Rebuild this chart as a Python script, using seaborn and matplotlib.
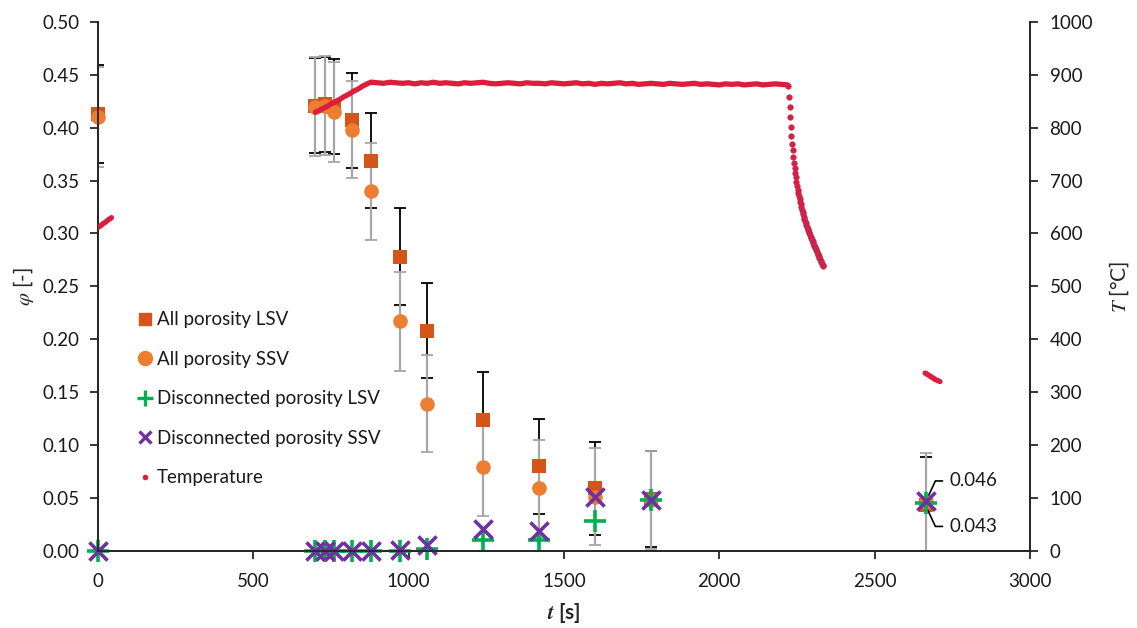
import numpy as np
import pandas as pd
import seaborn as sns
import matplotlib.pyplot as plt
from matplotlib.lines import Line2D

# Porosity samples
t_samples = [0, 700, 730, 760, 817, 879, 972, 1059, 1239, 1419, 1600, 1780, 2665]
phi_all_lsv = [0.413, 0.421, 0.422, 0.420, 0.407, 0.369, 0.278, 0.208, 0.124, 0.080, 0.059, 0.049, 0.043]
err_all_lsv = [0.046, 0.045, 0.045, 0.045, 0.045, 0.045, 0.046, 0.045, 0.045, 0.045, 0.044, 0.045, 0.046]
phi_all_ssv = [0.410, 0.420, 0.421, 0.415, 0.398, 0.340, 0.217, 0.139, 0.079, 0.059, 0.051, 0.048, 0.046]
err_all_ssv = [0.047, 0.047, 0.047, 0.047, 0.046, 0.046, 0.047, 0.046, 0.046, 0.046, 0.046, 0.046, 0.046]
phi_disc_lsv = [0.000, 0.000, 0.000, 0.000, 0.000, 0.000, 0.000, 0.002, 0.010, 0.010, 0.028, 0.048, 0.045]
phi_disc_ssv = [0.000, 0.000, 0.000, 0.000, 0.000, 0.000, 0.001, 0.005, 0.021, 0.019, 0.051, 0.048, 0.047]

# Temperature log
temp_t_a = [0, 4, 8, 12, 16, 20, 24, 28, 32, 36, 40, 44]
temp_a = [611, 613, 614, 616, 618, 620, 621, 623, 625, 627, 628, 630]
temp_t_b = [700, 710, 720, 730, 740, 750, 760, 770, 780, 790, 800, 810, 820, 830, 840, 850, 860, 870, 880]
temp_b = [829, 832, 835, 838, 841, 845, 848, 851, 854, 858, 861, 864, 868, 871, 874, 878, 881, 884, 886]
temp_t_c = list(range(880, 2221, 20))
temp_c = [886, 885, 884, 886, 885, 884, 885, 883, 885, 884, 886, 884, 885, 884, 883, 885, 884, 885, 886, 884,
          883, 884, 885, 884, 883, 885, 884, 884, 883, 885, 884, 883, 884, 885, 883, 884, 882, 884, 883, 884,
          885, 883, 884, 882, 883, 884, 883, 882, 884, 883, 882, 883, 884, 882, 883, 882, 881, 883, 882, 883,
          881, 882, 883, 881, 882, 883, 882, 881]
temp_t_d = list(range(2222, 2335, 2))
temp_d = [878, 858, 839, 820, 802, 785, 770, 757, 745, 734, 724, 715, 706, 698, 690, 683, 676, 670, 665, 660,
          655, 650, 645, 641, 636, 632, 628, 624, 620, 616, 612, 609, 606, 603, 600, 597, 594, 591, 588, 585,
          582, 579, 577, 574, 571, 568, 565, 562, 560, 557, 554, 551, 548, 546, 543, 540, 538]
temp_t_e = [2662, 2666, 2670, 2674, 2678, 2682, 2686, 2690, 2694, 2698, 2702, 2706, 2710]
temp_e = [336, 335, 333, 332, 330, 329, 327, 326, 324, 323, 322, 321, 320]

c_lsv = '#D4541A'
c_ssv = '#ED7D31'
c_dlsv = '#00B050'
c_dssv = '#7030A0'
c_temp = '#DC1E3C'
c_gray = '#A6A6A6'

sns.set_style('ticks')
plt.rcParams['font.family'] = ['Lato', 'DejaVu Sans']
plt.rcParams['mathtext.fontset'] = 'stix'
plt.rcParams['axes.linewidth'] = 1.3
plt.rcParams['text.color'] = '#1a1a1a'

df = pd.DataFrame({'t': t_samples, 'lsv': phi_all_lsv, 'ssv': phi_all_ssv,
                   'dlsv': phi_disc_lsv, 'dssv': phi_disc_ssv})

fig, ax = plt.subplots(figsize=(11.37, 6.28), dpi=100)
fig.subplots_adjust(left=0.086, right=0.906, bottom=0.123, top=0.965)

# error bars (clipped to the plot area like the original)
ax.errorbar(t_samples, phi_all_lsv, yerr=err_all_lsv, fmt='none', ecolor='black',
            elinewidth=1.3, capsize=4, capthick=1.3, zorder=2)
ax.errorbar(t_samples, phi_all_ssv, yerr=err_all_ssv, fmt='none', ecolor=c_gray,
            elinewidth=1.6, capsize=4, capthick=1.3, zorder=2.1)

sns.scatterplot(data=df, x='t', y='lsv', marker='s', s=100, color=c_lsv, linewidth=0,
                ax=ax, zorder=3, clip_on=False)
sns.scatterplot(data=df, x='t', y='ssv', marker='o', s=110, color=c_ssv, linewidth=0,
                ax=ax, zorder=3.1, clip_on=False)
sns.scatterplot(data=df, x='t', y='dlsv', marker='+', s=260, color=c_dlsv, linewidth=2.6,
                ax=ax, zorder=3.2, clip_on=False)
sns.scatterplot(data=df, x='t', y='dssv', marker='x', s=170, color=c_dssv, linewidth=2.6,
                ax=ax, zorder=3.3, clip_on=False)

ax.set_xlim(0, 3000)
ax.set_ylim(0, 0.5)
ax.set_xticks(np.arange(0, 3001, 500))
ax.set_yticks(np.arange(0, 0.501, 0.05))
ax.yaxis.set_major_formatter(plt.FormatStrFormatter('%.2f'))
ax.tick_params(labelsize=13.5, width=1.3, length=6, labelcolor='#1a1a1a')
ax.tick_params(axis='x', pad=10)
ax.tick_params(axis='y', pad=7)
ax.set_xlabel(r'$\mathbfit{t}$ [s]', fontsize=15, fontweight='bold', labelpad=8)
ax.set_ylabel(r'$\mathit{\varphi}$ [-]', fontsize=15, labelpad=5)

ax.annotate('0.046', xy=(2665, 0.047), xytext=(2742, 0.066), textcoords='data',
            fontsize=13.5, va='center', ha='left',
            arrowprops=dict(arrowstyle='-', color='black', lw=1.2,
                            connectionstyle='angle,angleA=0,angleB=65', shrinkA=3, shrinkB=0))
ax.annotate('0.043', xy=(2665, 0.042), xytext=(2742, 0.023), textcoords='data',
            fontsize=13.5, va='center', ha='left',
            arrowprops=dict(arrowstyle='-', color='black', lw=1.2,
                            connectionstyle='angle,angleA=0,angleB=-65', shrinkA=3, shrinkB=0))

ax2 = ax.twinx()
for tt, vv in [(temp_t_a, temp_a), (temp_t_b, temp_b), (temp_t_c, temp_c), (temp_t_e, temp_e)]:
    sns.lineplot(x=tt, y=vv, color=c_temp, lw=3.8, ax=ax2, sort=False, zorder=4)
sns.scatterplot(x=temp_t_d, y=temp_d, color=c_temp, s=16, linewidth=0.4,
                edgecolor='#B03060', ax=ax2, zorder=4)
ax2.set_ylim(0, 1000)
ax2.set_yticks(np.arange(0, 1001, 100))
ax2.tick_params(labelsize=13.5, width=1.3, length=6, pad=8, labelcolor='#1a1a1a')
ax2.set_ylabel(r'$\mathit{T}$ [°C]', fontsize=15, labelpad=10)

for a in (ax, ax2):
    a.spines['top'].set_visible(False)
    a.spines['right'].set_visible(True)

handles = [
    Line2D([], [], marker='s', ls='', color=c_lsv, ms=9),
    Line2D([], [], marker='o', ls='', color=c_ssv, ms=10),
    Line2D([], [], marker='+', ls='', color=c_dlsv, ms=11, mew=2.4),
    Line2D([], [], marker='x', ls='', color=c_dssv, ms=9, mew=2.4),
    Line2D([], [], marker='o', ls='', color=c_temp, ms=3),
]
labels = ['All porosity LSV', 'All porosity SSV', 'Disconnected porosity LSV',
          'Disconnected porosity SSV', 'Temperature']
ax2.legend(handles, labels, loc='upper left', bbox_to_anchor=(0.022, 0.485), frameon=False,
           fontsize=13.5, labelspacing=1.2, handletextpad=0.15, handlelength=1.0)

plt.savefig('out.png', dpi=100)
